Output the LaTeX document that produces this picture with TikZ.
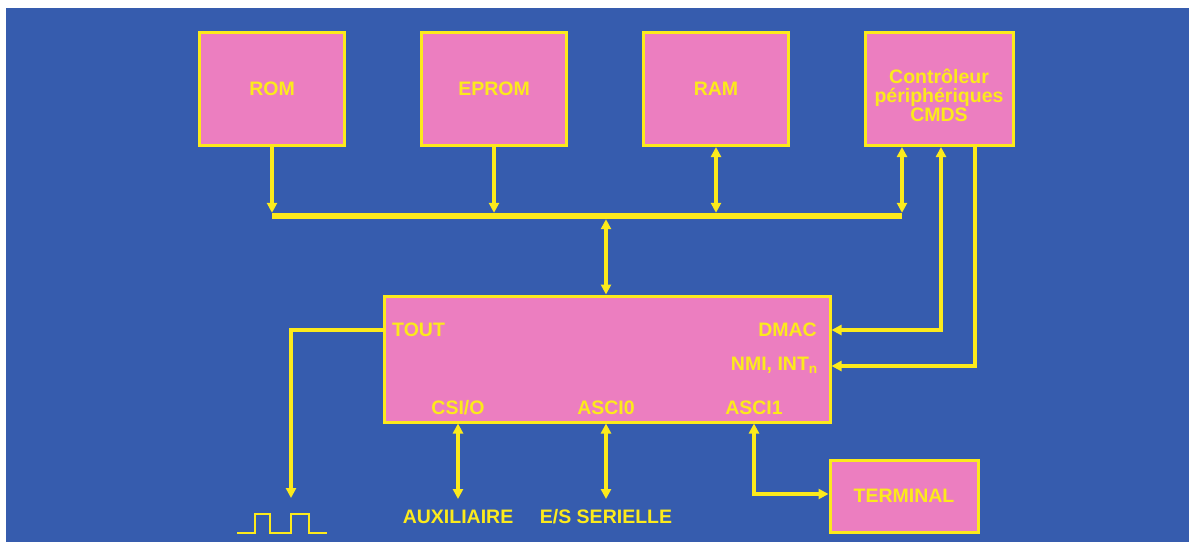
\documentclass[tikz,border=0pt]{standalone}
\usepackage{fontspec}
\setmainfont{Liberation Sans}
\usetikzlibrary{arrows.meta}
\definecolor{bg}{RGB}{54,92,174}
\definecolor{pk}{RGB}{236,126,192}
\definecolor{yl}{RGB}{252,234,28}
\tikzset{
  lblfont/.style={font=\bfseries\fontsize{19.5}{19}\selectfont},
  box/.style={draw=yl, line width=3pt, fill=pk, text=yl, lblfont, inner sep=0pt, align=center},
  lbl/.style={text=yl, lblfont, inner sep=0pt},
  conn/.style={draw=yl, line width=3.4pt, >={Triangle[length=10pt,width=10pt]}},
}
\begin{document}
\begin{tikzpicture}[x=1pt,y=-1pt]
\useasboundingbox (0,0) rectangle (1189,542);
\fill[white] (0,0) rectangle (1189,542);
\fill[bg] (6,8) rectangle (1189,542);

% memory boxes
\node[box, minimum width=145pt, minimum height=113pt] (rom) at (272,89) {ROM};
\node[box, minimum width=145pt, minimum height=113pt] (eprom) at (494,89) {EPROM};
\node[box, minimum width=145pt, minimum height=113pt] (ram) at (716,89) {RAM};
\node[box, minimum width=148pt, minimum height=113pt] (ctl) at (939,89) {};
\node[lbl, align=center] (ctltext) at (939,95) {Contrôleur\\périphériques\\CMDS};

% bus
\node[fill=yl, inner sep=0pt, minimum width=630pt, minimum height=6pt] (bus) at (587,216) {};

% CPU
\node[box, minimum width=446pt, minimum height=126pt] (cpu) at (607,359) {};
\node[lbl, anchor=west] (tout) at (392,330) {TOUT};
\node[lbl, anchor=east] (dmac) at (817,330) {DMAC};
\node[lbl, anchor=east] (nmi) at (818,365) {NMI, INT\textsubscript{n}};
\node[lbl] (csio) at (458,408) {CSI/O};
\node[lbl] (asci0) at (606,408) {ASCI0};
\node[lbl] (asci1) at (754,408) {ASCI1};

% terminal
\node[box, minimum width=148pt, minimum height=72pt] (term) at (904,496) {TERMINAL};

% bottom labels
\node[lbl] (aux) at (458,517) {AUXILIAIRE};
\node[lbl] (es) at (606,517) {E/S SERIELLE};
\coordinate (auxend) at (458,499);
\coordinate (esend) at (606,499);

% corner coordinates
\coordinate (ctlA) at (902,0);
\coordinate (c1) at (941,330);
\coordinate (c2) at (975,366);
\coordinate (tc) at (291,330);
\coordinate (tend) at (291,498);
\coordinate (a1) at (754,494);
\coordinate (mid) at (606,0);

% memory -> bus
\draw[conn, ->] (rom.south) -- (rom.south |- bus.north);
\draw[conn, ->] (eprom.south) -- (eprom.south |- bus.north);
\draw[conn, <->] (ram.south |- bus.north) -- (ram.south);
\draw[conn, <->] (ctl.south -| ctlA) -- (ctlA |- bus.north);
\draw[conn, <->] (mid |- bus.south) -- (mid |- cpu.north);

% controller -> CPU
\draw[conn, <->] (ctl.south -| c1) -- (c1) -- (cpu.east |- c1);
\draw[conn, ->] (ctl.south -| c2) -- (c2) -- (cpu.east |- c2);

% TOUT
\draw[conn, ->] (cpu.west |- tc) -- (tc) -- (tend);
\draw[yl, line width=2.6pt, line join=miter] (237,533) -- (255,533) -- (255,514) -- (270,514) -- (270,533) -- (291,533) -- (291,514) -- (309,514) -- (309,533) -- (327,533);

% serial
\draw[conn, <->] (cpu.south -| auxend) -- (auxend);
\draw[conn, <->] (cpu.south -| esend) -- (esend);
\draw[conn, <->] (cpu.south -| a1) -- (a1) -- (term.west |- a1);
\end{tikzpicture}
\end{document}
